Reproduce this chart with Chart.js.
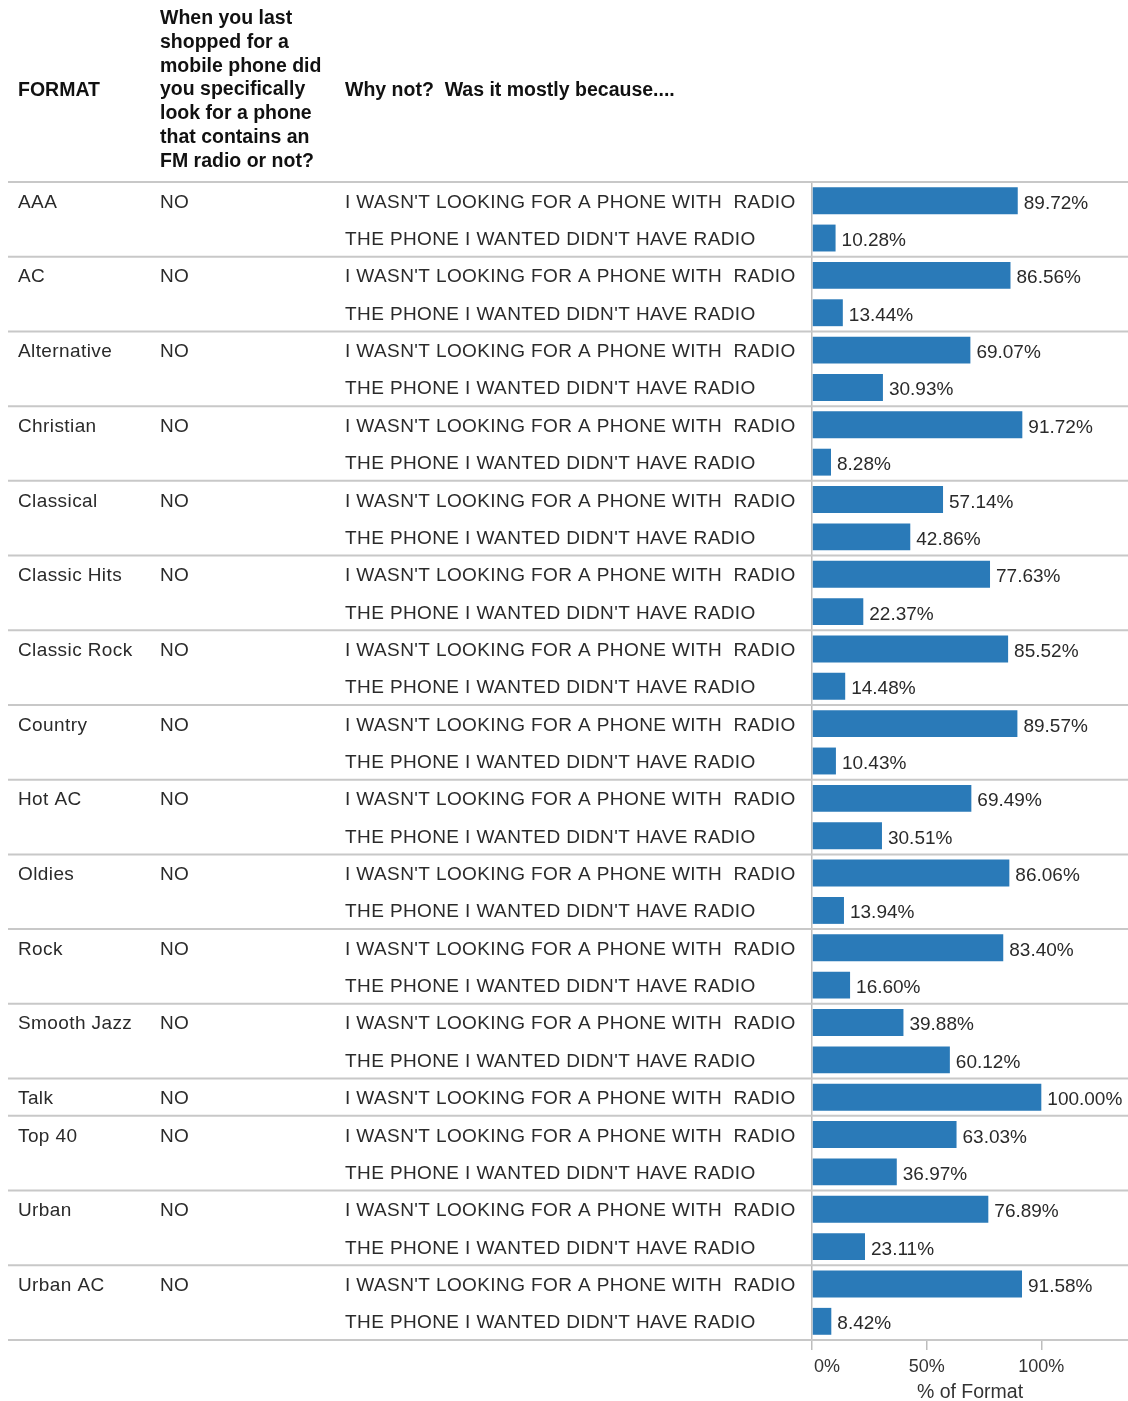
<!DOCTYPE html>
<html>
<head>
<meta charset="utf-8">
<title>Why not a phone with FM radio - by format</title>
<script src="https://cdn.jsdelivr.net/npm/chart.js@4.4.1/dist/chart.umd.min.js"></script>
<style>
    html, body { margin: 0; padding: 0; background: #ffffff; }
    #chart-wrap { position: relative; width: 1128px; height: 1401px; }
</style>
</head>
<body>
<div id="chart-wrap"><canvas id="format-chart"></canvas></div>
<script>
const formats = ['AAA', 'AC', 'Alternative', 'Christian', 'Classical', 'Classic Hits', 'Classic Rock', 'Country',
    'Hot AC', 'Oldies', 'Rock', 'Smooth Jazz', 'Talk', 'Top 40', 'Urban', 'Urban AC'];
const lookedAnswer = 'NO';
const reasons = ["I WASN'T LOOKING FOR A PHONE WITH  RADIO", "THE PHONE I WANTED DIDN'T HAVE RADIO"];
const notLookingPct = [89.72, 86.56, 69.07, 91.72, 57.14, 77.63, 85.52, 89.57, 69.49, 86.06, 83.40, 39.88, 100.00, 63.03, 76.89, 91.58];
const phoneLackedPct = [10.28, 13.44, 30.93, 8.28, 42.86, 22.37, 14.48, 10.43, 30.51, 13.94, 16.60, 60.12, null, 36.97, 23.11, 8.42];
const axisTicks = [0, 50, 100];

const headerFormat = 'FORMAT';
const headerQuestion = ['When you last', 'shopped for a', 'mobile phone did', 'you specifically',
    'look for a phone', 'that contains an', 'FM radio or not?'];
const headerReason = 'Why not?  Was it mostly because....';
const axisTitle = '% of Format';

// one row per (format, reason) pair that exists
const rows = [];
formats.forEach((fmt, i) => {
    rows.push({ format: fmt, answer: lookedAnswer, reason: reasons[0], value: notLookingPct[i], first: true });
    if (phoneLackedPct[i] !== null) {
        rows.push({ format: '', answer: '', reason: reasons[1], value: phoneLackedPct[i], first: false });
    }
});

const rowFont = '19px "Liberation Sans"';
const headFont = 'bold 19.5px "Liberation Sans"';
const textColor = '#2a2a2a';
const lineColor = '#c8c8c8';

const tablePlugin = {
    id: 'tableText',
    beforeDatasetsDraw(chart) {
        const ctx = chart.ctx;
        const yScale = chart.scales.y;
        const area = chart.chartArea;
        const rowH = area.height / rows.length;
        ctx.save();
        ctx.strokeStyle = lineColor;
        ctx.lineWidth = 2;
        rows.forEach((r, i) => {
            if (!r.first) return;
            const y = yScale.getPixelForValue(i) - rowH / 2;
            ctx.beginPath();
            ctx.moveTo(8, y);
            ctx.lineTo(chart.width, y);
            ctx.stroke();
        });
        ctx.beginPath();
        ctx.moveTo(8, area.bottom);
        ctx.lineTo(chart.width, area.bottom);
        ctx.stroke();
        ctx.restore();
    },
    afterDatasetsDraw(chart) {
        const ctx = chart.ctx;
        const yScale = chart.scales.y;
        const meta = chart.getDatasetMeta(0);
        ctx.save();
        ctx.fillStyle = textColor;
        ctx.font = rowFont;
        ctx.textBaseline = 'alphabetic';
        ctx.letterSpacing = '0.4px';
        rows.forEach((r, i) => {
            const y = yScale.getPixelForValue(i) + 7;
            if (r.format) ctx.fillText(r.format, 18, y);
            if (r.answer) ctx.fillText(r.answer, 160, y);
            ctx.fillText(r.reason, 345, y);
        });
        ctx.letterSpacing = '0px';
        meta.data.forEach((bar, i) => {
            ctx.fillText(rows[i].value.toFixed(2) + '%', bar.x + 6, bar.y + 8);
        });

        // header block
        ctx.font = headFont;
        ctx.fillStyle = '#111111';
        ctx.fillText(headerFormat, 18, 96);
        headerQuestion.forEach((line, k) => ctx.fillText(line, 160, 24 + k * 23.8));
        ctx.fillText(headerReason, 345, 96);
        ctx.restore();
    }
};

const chartCtx = document.getElementById('format-chart').getContext('2d');
new Chart(chartCtx, {
    type: 'bar',
    data: {
        labels: rows.map((r, i) => String(i)),
        datasets: [{
            label: '% of Format',
            data: rows.map(r => r.value),
            backgroundColor: '#2a7ab8',
            borderWidth: 0,
            categoryPercentage: 1,
            barPercentage: 0.72
        }]
    },
    options: {
        indexAxis: 'y',
        responsive: true,
        maintainAspectRatio: false,
        animation: false,
        layout: { padding: { left: 812, top: 182, right: 0, bottom: 0 } },
        plugins: {
            legend: { display: false },
            tooltip: { enabled: false }
        },
        scales: {
            y: { display: false },
            x: {
                min: 0,
                max: 137.8,
                afterBuildTicks: (scale) => { scale.ticks = axisTicks.map(v => ({ value: v })); },
                afterFit: (scale) => { scale.height = 61; },
                border: { display: false },
                grid: {
                    drawOnChartArea: true,
                    color: (c) => (c.tick && c.tick.value === 0 ? '#bdbdbd' : 'rgba(0,0,0,0)'),
                    tickColor: '#bdbdbd',
                    tickLength: 10,
                    lineWidth: 1.5
                },
                ticks: {
                    color: '#333',
                    font: { family: 'Liberation Sans', size: 18 },
                    padding: 6,
                    maxRotation: 0,
                    // first label sits right of its tick, as in the original
                    callback: (v) => (v === 0 ? '      0%' : v + '%')
                },
                title: {
                    display: true,
                    text: axisTitle,
                    color: '#333',
                    font: { family: 'Liberation Sans', size: 19.5, lineHeight: 0.9 },
                    padding: { top: 0, bottom: 0 }
                }
            }
        }
    },
    plugins: [tablePlugin]
});
</script>
</body>
</html>
